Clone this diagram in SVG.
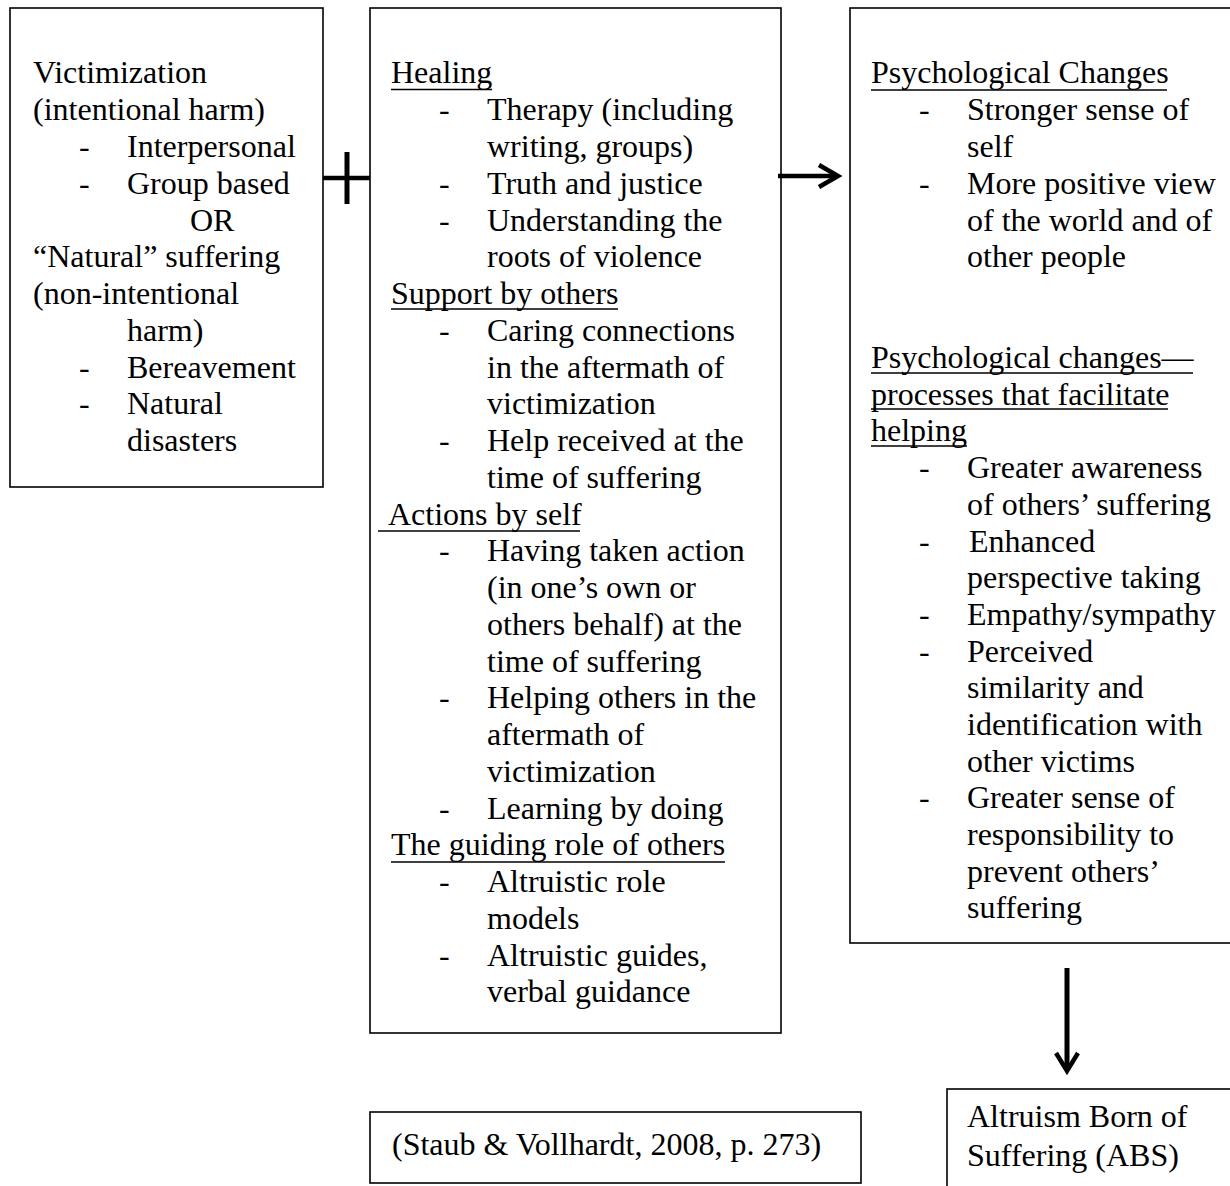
<svg xmlns="http://www.w3.org/2000/svg" width="1230" height="1186" viewBox="0 0 1230 1186">
<style>
.box{fill:#fff;stroke:#000;stroke-width:1.6}
text{font-family:"Liberation Serif","Times New Roman",serif;font-size:32px;fill:#000}
.ul{stroke:#000;stroke-width:1.5}
.conn{stroke:#000;fill:none;stroke-linecap:butt}
</style>
<rect x="0" y="0" width="1230" height="1186" fill="#fff"/>
<g id="victimization">
<rect class="box" x="10" y="8" width="313" height="479"/>
<text x="33" y="83">Victimization</text>
<text x="33" y="120">(intentional harm)</text>
<text x="79" y="157">-</text><text x="127" y="157">Interpersonal</text>
<text x="79" y="194">-</text><text x="127" y="194">Group based</text>
<text x="190" y="231">OR</text>
<text x="33" y="267">“Natural” suffering</text>
<text x="33" y="304">(non-intentional</text>
<text x="127" y="341">harm)</text>
<text x="79" y="378">-</text><text x="127" y="378">Bereavement</text>
<text x="79" y="414">-</text><text x="127" y="414">Natural</text>
<text x="127" y="451">disasters</text>
</g>
<g id="factors">
<rect class="box" x="370" y="8" width="411" height="1025"/>
<text x="391" y="83">Healing</text><line class="ul" x1="391" y1="89.5" x2="492" y2="89.5"/>
<text x="439" y="120">-</text><text x="487" y="120">Therapy (including</text>
<text x="487" y="157">writing, groups)</text>
<text x="439" y="194">-</text><text x="487" y="194">Truth and justice</text>
<text x="439" y="231">-</text><text x="487" y="231">Understanding the</text>
<text x="487" y="267">roots of violence</text>
<text x="391" y="304">Support by others</text><line class="ul" x1="391" y1="309" x2="618" y2="309"/>
<text x="439" y="341">-</text><text x="487" y="341">Caring connections</text>
<text x="487" y="378">in the aftermath of</text>
<text x="487" y="414">victimization</text>
<text x="439" y="451">-</text><text x="487" y="451">Help received at the</text>
<text x="487" y="488">time of suffering</text>
<text x="388" y="525">Actions by self</text><line class="ul" x1="378" y1="531" x2="580" y2="531"/>
<text x="439" y="561">-</text><text x="487" y="561">Having taken action</text>
<text x="487" y="598">(in one’s own or</text>
<text x="487" y="635">others behalf) at the</text>
<text x="487" y="672">time of suffering</text>
<text x="439" y="708">-</text><text x="487" y="708">Helping others in the</text>
<text x="487" y="745">aftermath of</text>
<text x="487" y="782">victimization</text>
<text x="439" y="819">-</text><text x="487" y="819">Learning by doing</text>
<text x="391" y="855">The guiding role of others</text><line class="ul" x1="391" y1="862" x2="725" y2="862"/>
<text x="439" y="892">-</text><text x="487" y="892">Altruistic role</text>
<text x="487" y="929">models</text>
<text x="439" y="966">-</text><text x="487" y="966">Altruistic guides,</text>
<text x="487" y="1002">verbal guidance</text>
</g>
<g id="changes">
<rect class="box" x="850" y="8" width="400" height="935"/>
<text x="871" y="83">Psychological Changes</text><line class="ul" x1="871" y1="90" x2="1167" y2="90"/>
<text x="919" y="120">-</text><text x="967" y="120">Stronger sense of</text>
<text x="967" y="157">self</text>
<text x="919" y="194">-</text><text x="967" y="194">More positive view</text>
<text x="967" y="231">of the world and of</text>
<text x="967" y="267">other people</text>
<text x="871" y="368">Psychological changes—</text><line class="ul" x1="871" y1="373" x2="1193" y2="373"/>
<text x="871" y="405">processes that facilitate</text><line class="ul" x1="871" y1="409" x2="1168" y2="409"/>
<text x="871" y="441">helping</text><line class="ul" x1="871" y1="446" x2="967" y2="446"/>
<text x="919" y="478">-</text><text x="967" y="478">Greater awareness</text>
<text x="967" y="515">of others’ suffering</text>
<text x="919" y="552">-</text><text x="969" y="552">Enhanced</text>
<text x="967" y="588">perspective taking</text>
<text x="919" y="625">-</text><text x="967" y="625">Empathy/sympathy</text>
<text x="919" y="662">-</text><text x="967" y="662">Perceived</text>
<text x="967" y="698">similarity and</text>
<text x="967" y="735">identification with</text>
<text x="967" y="772">other victims</text>
<text x="919" y="808">-</text><text x="967" y="808">Greater sense of</text>
<text x="967" y="845">responsibility to</text>
<text x="967" y="882">prevent others’</text>
<text x="967" y="918">suffering</text>
</g>
<g id="abs">
<rect class="box" x="947" y="1089" width="300" height="120"/>
<text x="967" y="1127">Altruism Born of</text>
<text x="967" y="1166">Suffering (ABS)</text>
</g>
<g id="citation">
<rect class="box" x="370" y="1112" width="491" height="71"/>
<text x="392" y="1155">(Staub &amp; Vollhardt, 2008, p. 273)</text>
</g>
<g id="connectors">
<line class="conn" x1="323" y1="178" x2="370" y2="178" stroke-width="4.5"/>
<line class="conn" x1="347" y1="152" x2="347" y2="204" stroke-width="5"/>
<line class="conn" x1="778" y1="176" x2="836" y2="176" stroke-width="4.5"/>
<polyline class="conn" points="819,165 838,176 819,187" stroke-width="4.5" stroke-linecap="round" stroke-linejoin="miter"/>
<line class="conn" x1="1067" y1="968" x2="1067" y2="1070" stroke-width="5"/>
<polyline class="conn" points="1056,1053 1067,1071 1078,1053" stroke-width="4.5" stroke-linecap="round" stroke-linejoin="miter"/>
</g>
</svg>
